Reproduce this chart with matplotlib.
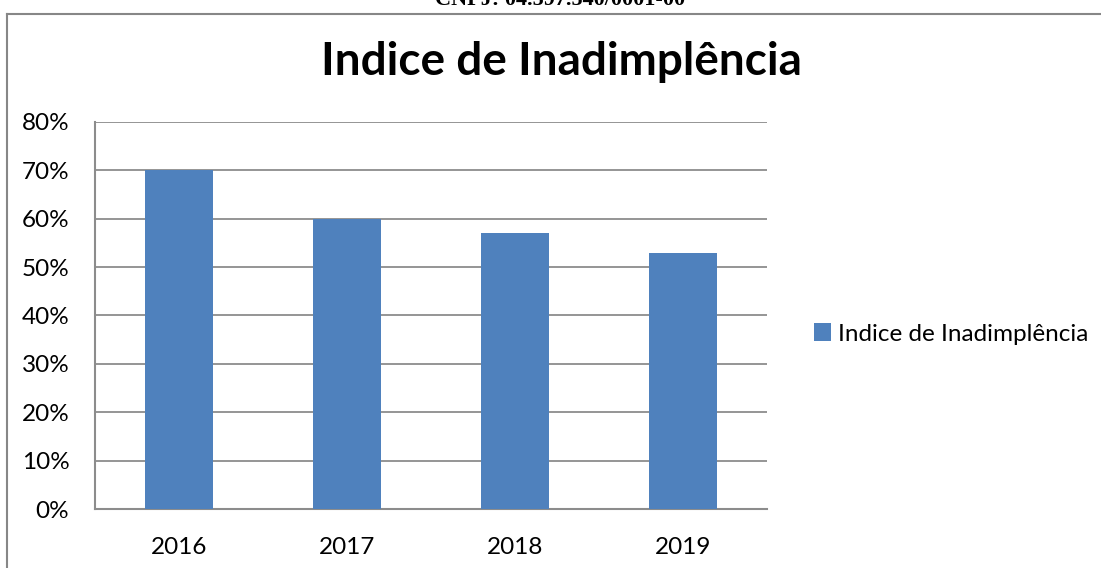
import matplotlib.pyplot as plt
from matplotlib.lines import Line2D
from matplotlib.ticker import FuncFormatter

years = ["2016", "2017", "2018", "2019"]
inadimplencia = [70, 60, 57, 53]
serie_nome = "Indice de Inadimplência"
titulo = "Indice de Inadimplência"
y_ticks = [0, 10, 20, 30, 40, 50, 60, 70, 80]

W, H = 1101, 568
plt.rcParams['font.family'] = ['Lato', 'DejaVu Sans']

fig = plt.figure(figsize=(W / 100, H / 100), dpi=100)
fig.patch.set_facecolor("white")

# page header, cut off at the top of the image
fig.text(560 / W, 1 - 5 / H, "CNPJ: 04.597.540/0001-00", ha="center", va="baseline",
         fontsize=16, fontweight="bold", family="Liberation Serif", color="black")

# chart border (only top and left visible)
border = "#878787"
fig.add_artist(Line2D([7 / W, 7 / W], [0, 1 - 14 / H], transform=fig.transFigure,
                      color=border, lw=1.5))
fig.add_artist(Line2D([7 / W, 1], [1 - 14 / H, 1 - 14 / H], transform=fig.transFigure,
                      color=border, lw=1.5))

ax = fig.add_axes([95 / W, (H - 509) / H, 672 / W, 387 / H])
x = range(len(years))
ax.bar(x, inadimplencia, width=0.4, color="#4F81BD", label=serie_nome, zorder=3)

ax.set_xlim(-0.5, len(years) - 0.5)
ax.set_ylim(0, 80)
ax.set_yticks(y_ticks)
ax.yaxis.set_major_formatter(FuncFormatter(lambda v, p: f"{int(v)}%"))
ax.set_xticks(list(x))
ax.set_xticklabels(years)
ax.tick_params(axis="both", length=0, labelsize=17.5, colors="black")
ax.tick_params(axis="y", pad=18.5)
ax.tick_params(axis="x", pad=20)
ax.grid(axis="y", color="#8c8c8c", lw=1.3, zorder=0)
for s in ["top", "right"]:
    ax.spines[s].set_visible(False)
for s in ["left", "bottom"]:
    ax.spines[s].set_color("#8c8c8c")
    ax.spines[s].set_linewidth(1.5)

fig.text(561 / W, 1 - 62 / H, titulo, ha="center", va="center",
         fontsize=33, fontweight="bold")

fig.legend(loc="center left", bbox_to_anchor=(804 / W, 1 - 334 / H), frameon=False,
           fontsize=17.5, handlelength=0.7, handleheight=0.7, handletextpad=0.3,
           borderaxespad=0)

fig.savefig("out.png", dpi=100)
